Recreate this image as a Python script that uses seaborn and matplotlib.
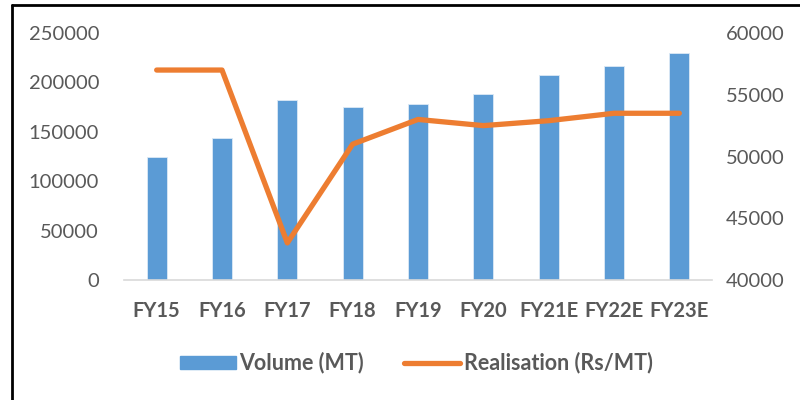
import numpy as np
import pandas as pd
import matplotlib
matplotlib.use("Agg")
import matplotlib.pyplot as plt
import seaborn as sns
from matplotlib.patches import Patch
from matplotlib.lines import Line2D

# ── Data ──────────────────────────────────────────────────────────────
years       = ["FY15", "FY16", "FY17", "FY18", "FY19", "FY20", "FY21E", "FY22E", "FY23E"]
volume      = [125000, 144000, 182000, 175000, 178000, 188000, 207000, 217000, 230000]
realisation = [57000, 57000, 43000, 51000, 53000, 52500, 52900, 53500, 53500]

BLUE   = "#5B9BD5"
ORANGE = "#ED7D31"
GREY   = "#595959"

sns.set_theme(style="white")
plt.rcParams["font.family"] = ["Lato", "DejaVu Sans"]

df = pd.DataFrame({"year": years, "volume": volume, "realisation": realisation})

fig = plt.figure(figsize=(8, 4), dpi=100)
ax = fig.add_axes([0.155, 0.30, 0.735, 0.6175])

sns.barplot(data=df, x="year", y="volume", color=BLUE, width=0.31,
            saturation=1, edgecolor="#dce9f5", linewidth=0.6, ax=ax)
ax.set_ylim(0, 250000)
ax.set_yticks(np.arange(0, 250001, 50000))
ax.set_xlabel(""); ax.set_ylabel("")

ax2 = ax.twinx()
sns.pointplot(data=df, x="year", y="realisation", color=ORANGE, markers="",
              linestyles="-", errorbar=None, linewidth=3.8,
              solid_capstyle="round", ax=ax2)
ax2.set_ylim(40000, 60000)
ax2.set_yticks(np.arange(40000, 60001, 5000))
ax2.set_ylabel("")
ax.set_xlim(-0.5, len(years) - 0.5)
ax2.set_xlim(-0.5, len(years) - 0.5)

for a in (ax, ax2):
    for s in a.spines.values():
        s.set_visible(False)
    a.tick_params(axis="y", length=0, labelsize=14.5, labelcolor=GREY)
ax.spines["bottom"].set_visible(True)
ax.spines["bottom"].set_color("#d9d9d9")
ax.spines["bottom"].set_linewidth(1.2)
ax.tick_params(axis="y", pad=18)
ax2.tick_params(axis="y", pad=10)
ax.tick_params(axis="x", length=0, pad=15, labelsize=14.5, labelcolor=GREY)
for lab in ax.get_xticklabels():
    lab.set_fontweight("bold")

handles = [Patch(facecolor=BLUE, edgecolor=BLUE, label="Volume (MT)"),
           Line2D([0], [0], color=ORANGE, lw=3.8, solid_capstyle="round",
                  label="Realisation (Rs/MT)")]
leg = fig.legend(handles=handles, loc="center", bbox_to_anchor=(0.52, 0.093),
                 ncol=2, frameon=False, handlelength=2.6, handleheight=0.55,
                 handletextpad=0.15, columnspacing=1.9,
                 prop={"weight": "bold", "size": 15.5})
for t in leg.get_texts():
    t.set_color(GREY)

# outer frame (cropped screenshot border)
fig.add_artist(Line2D([0.0144, 0.0144], [0, 0.9875], color="black", lw=2,
                      transform=fig.transFigure))
fig.add_artist(Line2D([0.0144, 1], [0.9875, 0.9875], color="black", lw=2,
                      transform=fig.transFigure))

fig.savefig("out.png", dpi=100)
plt.close()
